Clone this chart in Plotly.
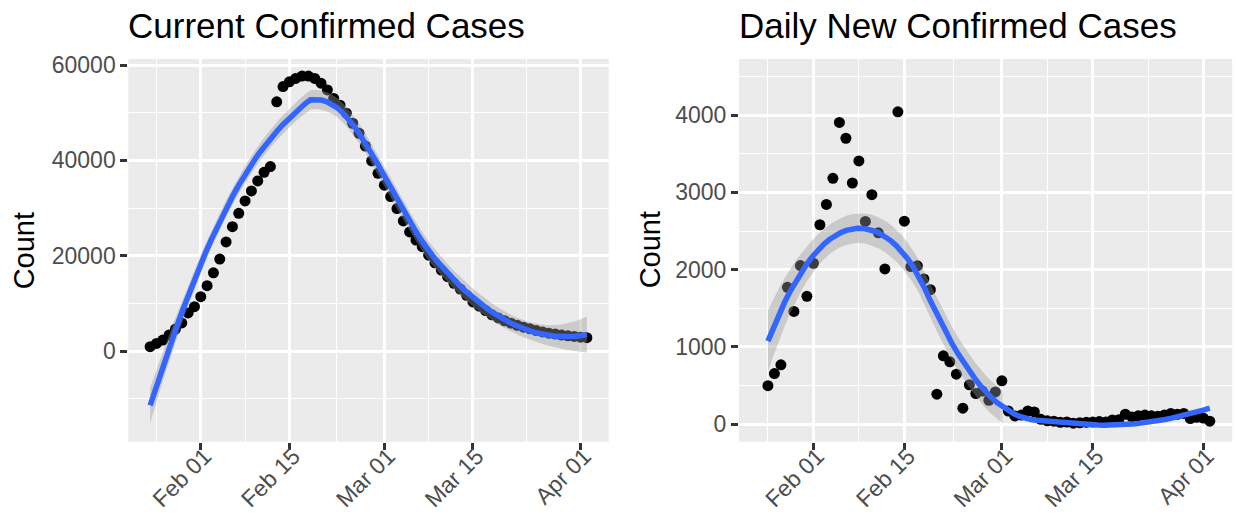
import numpy as np
import pandas as pd
import plotly.graph_objects as go

# ---------------- data ----------------
DATES = pd.date_range("2020-01-24", "2020-04-02", freq="D")

CURRENT_CONFIRMED = [
    900, 1600, 2300, 3360, 4600, 5900, 8000, 9300, 11400, 13700,
    16400, 19300, 22900, 26100, 28900, 31500, 33600, 35700, 37500, 38700,
    52300, 55500, 56500, 57200, 57700, 57700, 57200, 56200, 54800, 53000,
    51600, 49900, 47800, 45700, 43000, 39900, 37300, 34800, 32400, 29900,
    27300, 25000, 23300, 21900, 20100, 18500, 17000, 15600, 14200, 13000,
    11700, 10300, 9400, 8500, 7600, 6950, 6350, 5850, 5400, 5000,
    4650, 4300, 4000, 3750, 3550, 3350, 3200, 3050, 2900, 2800,
]

DAILY_NEW = [
    None, 500, 656, 769, 1772, 1460, 2053, 1655, 2083, 2581,
    2844, 3182, 3904, 3700, 3121, 3406, 2624, 2970, 2477, 2010,
    None, 4042, 2628, 2040, 2050, 1880, 1742, 389, 886, 808,
    648, 208, 510, 397, 430, 311, 419, 562, 172, 108,
    120, 172, 160, 65, 45, 40, 25, 30, 15, 20,
    25, 30, 35, 30, 55, 60, 130, 95, 110, 120,
    110, 105, 120, 140, 130, 140, 75, 90, 80, 40,
]

TITLES = ["Current Confirmed Cases", "Daily New Confirmed Cases"]
Y_TITLE = "Count"

X_TICK_DATES = ["2020-02-01", "2020-02-15", "2020-03-01", "2020-03-15", "2020-04-01"]
X_TICK_TEXT = ["Feb 01", "Feb 15", "Mar 01", "Mar 15", "Apr 01"]
X_MINOR_DATES = ["2020-01-25", "2020-02-08", "2020-02-22 12:00", "2020-03-08", "2020-03-23 12:00"]

Y1_TICKS = [0, 20000, 40000, 60000]
Y1_MINOR = [-10000, 10000, 30000, 50000]
Y1_RANGE = [-19030, 61280]
Y2_TICKS = [0, 1000, 2000, 3000, 4000]
Y2_MINOR = [500, 1500, 2500, 3500, 4500]
Y2_LIMITS = [0, 4500]

# ---------------- loess (as ggplot2 geom_smooth) ----------------
def t_quantile(df, z=1.959963985):
    return (z + (z**3 + z) / (4 * df) + (5 * z**5 + 16 * z**3 + 3 * z) / (96 * df**2)
            + (3 * z**7 + 19 * z**5 + 17 * z**3 - 15 * z) / (384 * df**3))


def loess(x, y, xnew, span=0.75, degree=2):
    n = len(x)
    q = int(np.floor(n * span))

    def row(x0):
        d = np.abs(x - x0)
        h = np.sort(d)[q - 1]
        u = d / h
        w = np.where(u < 1, (1 - u**3) ** 3, 0.0)
        X = np.vander(x - x0, degree + 1, increasing=True)
        XtW = X.T * w
        return np.linalg.solve(XtW @ X, XtW)[0]

    L = np.array([row(v) for v in x])
    Ln = np.array([row(v) for v in xnew])
    fit = Ln @ y
    res = y - L @ y
    IL = np.eye(n) - L
    M = IL.T @ IL
    d1 = np.trace(M)
    d2 = np.trace(M @ M)
    s = np.sqrt(res @ res / d1)
    se = s * np.sqrt((Ln**2).sum(axis=1))
    t = t_quantile(d1**2 / d2)
    return fit, fit - t * se, fit + t * se


def smooth(dates, values):
    ser = pd.Series(values, index=dates, dtype=float).dropna()
    days = ((ser.index - dates[0]) / pd.Timedelta(days=1)).to_numpy(float)
    grid = np.linspace(days.min(), days.max(), 80)
    fit, lo, hi = loess(days, ser.to_numpy(float), grid)
    gdates = dates[0] + pd.to_timedelta(grid, unit="D")
    return gdates, fit, lo, hi


def runs(mask):
    segs, start = [], None
    for i, m in enumerate(mask):
        if m and start is None:
            start = i
        if not m and start is not None:
            segs.append((start, i))
            start = None
    if start is not None:
        segs.append((start, len(mask)))
    return segs


def expand(lo, hi, mult=0.05):
    d = hi - lo
    return [lo - mult * d, hi + mult * d]


# ---------------- figure ----------------
W, H = 1236, 521
FONT = "Liberation Sans, Arial, sans-serif"
PANEL_BG = "#EBEBEB"
TICK_COL = "#4D4D4D"
LINE_COL = "#3366FF"
RIBBON = "rgba(153,153,153,0.4)"

PANELS = [
    dict(x0=128.3, x1=608.7),
    dict(x0=739.0, x1=1232.2),
]
Y_TOP, Y_BOT = 59.0, 441.7

fig = go.Figure()

series = [CURRENT_CONFIRMED, DAILY_NEW]
limits = [None, Y2_LIMITS]
for i, vals in enumerate(series):
    xa = "x" if i == 0 else "x2"
    ya = "y" if i == 0 else "y2"
    gd, fit, lo, hi = smooth(DATES, vals)
    fig.add_trace(go.Scatter(x=DATES, y=vals, mode="markers", xaxis=xa, yaxis=ya,
                             marker=dict(color="black", size=11, line=dict(width=0)),
                             showlegend=False, hoverinfo="skip"))
    if limits[i] is None:
        mask = np.ones(len(gd), bool)
    else:
        mask = (lo >= limits[i][0]) & (hi <= limits[i][1])
    for a, b in runs(mask):
        sx = list(gd[a:b])
        fig.add_trace(go.Scatter(x=sx + sx[::-1], y=list(hi[a:b]) + list(lo[a:b][::-1]),
                                 mode="lines", fill="toself", fillcolor=RIBBON,
                                 line=dict(width=0), xaxis=xa, yaxis=ya,
                                 showlegend=False, hoverinfo="skip"))
    fig.add_trace(go.Scatter(x=gd, y=fit, mode="lines", xaxis=xa, yaxis=ya,
                             line=dict(color=LINE_COL, width=5.5),
                             showlegend=False, hoverinfo="skip"))

yranges = [Y1_RANGE, expand(*Y2_LIMITS)]

span = DATES[-1] - DATES[0]
xrange = [DATES[0] - 0.05 * span, DATES[-1] + 0.05 * span]

common_x = dict(type="date", range=xrange, tickvals=X_TICK_DATES, ticktext=X_TICK_TEXT,
                tickangle=-45, ticks="outside", ticklen=7, tickwidth=2.6, tickcolor="#333333",
                tickfont=dict(family=FONT, size=23, color=TICK_COL),
                ticklabelstandoff=-16, ticklabelshift=4,
                showgrid=True, gridcolor="white", gridwidth=2.6, zeroline=False, showline=False,
                automargin=False,
                minor=dict(tickvals=X_MINOR_DATES, showgrid=True, gridcolor="white", gridwidth=1.3))
common_y = dict(ticks="outside", ticklen=7, tickwidth=2.6, tickcolor="#333333",
                tickfont=dict(family=FONT, size=23, color=TICK_COL), automargin=False,
                showgrid=True, gridcolor="white", gridwidth=2.6, zeroline=False, showline=False)

ydom = [(H - Y_BOT) / H, (H - Y_TOP) / H]

fig.update_layout(
    template="none",
    width=W, height=H, margin=dict(l=0, r=0, t=0, b=0, pad=0),
    paper_bgcolor="white", plot_bgcolor=PANEL_BG,
    xaxis=dict(common_x, domain=[PANELS[0]["x0"] / W, PANELS[0]["x1"] / W], anchor="y"),
    xaxis2=dict(common_x, domain=[PANELS[1]["x0"] / W, PANELS[1]["x1"] / W], anchor="y2"),
    yaxis=dict(common_y, domain=ydom, anchor="x", range=yranges[0],
               tickvals=Y1_TICKS, ticktext=[str(t) for t in Y1_TICKS],
               minor=dict(tickvals=Y1_MINOR, showgrid=True, gridcolor="white", gridwidth=1.3)),
    yaxis2=dict(common_y, domain=ydom, anchor="x2", range=yranges[1],
                tickvals=Y2_TICKS, ticktext=[str(t) for t in Y2_TICKS],
                minor=dict(tickvals=Y2_MINOR, showgrid=True, gridcolor="white", gridwidth=1.3)),
)

# titles and axis titles
for i, p in enumerate(PANELS):
    fig.add_annotation(text=TITLES[i], xref="paper", yref="paper",
                       x=(p["x0"] - 2) / W, y=1 - 25.5 / H, xanchor="left", yanchor="middle",
                       showarrow=False, font=dict(family=FONT, size=35, color="black"))
    ax_x = 24 if i == 0 else 650
    fig.add_annotation(text=Y_TITLE, xref="paper", yref="paper",
                       x=ax_x / W, y=1 - ((Y_TOP + Y_BOT) / 2) / H, textangle=-90,
                       xanchor="center", yanchor="middle", showarrow=False,
                       font=dict(family=FONT, size=29, color="black"))

fig.write_html("out.html", config={"displayModeBar": False},
               post_script="document.body.style.margin='0px';")
